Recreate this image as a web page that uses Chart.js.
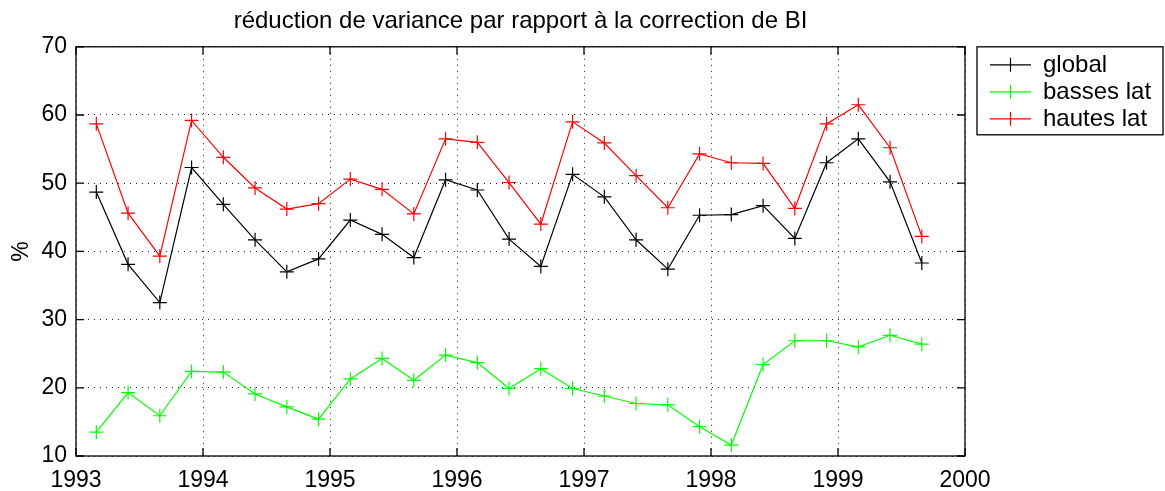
<!DOCTYPE html>
<html>
<head>
<meta charset="utf-8">
<title>réduction de variance</title>
<script src="https://cdn.jsdelivr.net/npm/chart.js@4/dist/chart.umd.min.js"></script>
<style>
  body { margin: 0; background: #fff; }
  canvas { display: block; }
</style>
</head>
<body>
<canvas id="variance-chart" width="1165" height="491"></canvas>
<script>
// seasonal time steps (decimal years)
const years = [
  1993.16, 1993.41, 1993.66, 1993.91,
  1994.16, 1994.41, 1994.66, 1994.91,
  1995.16, 1995.41, 1995.66, 1995.91,
  1996.16, 1996.41, 1996.66, 1996.91,
  1997.16, 1997.41, 1997.66, 1997.91,
  1998.16, 1998.41, 1998.66, 1998.91,
  1999.16, 1999.41, 1999.66
];
const globalPct = [
  48.7, 38.1, 32.5, 52.3, 46.9, 41.7, 37.0, 38.9, 44.6, 42.5,
  39.1, 50.5, 49.0, 41.8, 37.8, 51.3, 48.0, 41.7, 37.4, 45.3,
  45.4, 46.7, 41.9, 53.0, 56.5, 50.2, 38.3
];
const bassesLatPct = [
  13.5, 19.3, 15.9, 22.4, 22.3, 19.1, 17.2, 15.4, 21.3, 24.3,
  21.1, 24.8, 23.7, 19.9, 22.8, 19.9, 18.8, 17.7, 17.5, 14.3,
  11.6, 23.4, 26.9, 26.9, 26.0, 27.7, 26.4
];
const hautesLatPct = [
  58.7, 45.6, 39.3, 59.2, 53.8, 49.3, 46.2, 47.0, 50.6, 49.1,
  45.5, 56.5, 56.0, 50.1, 44.0, 59.0, 55.9, 51.1, 46.4, 54.3,
  53.0, 52.9, 46.3, 58.7, 61.5, 55.2, 42.2
];
const xTicks = [1993, 1994, 1995, 1996, 1997, 1998, 1999, 2000];
const yTicks = [10, 20, 30, 40, 50, 60, 70];

const FONT = "'Liberation Sans', Arial, Helvetica, sans-serif";

function toPoints(values) {
  return values.map((v, i) => ({ x: years[i], y: v }));
}

function makeSeries(label, values, color) {
  return {
    label: label,
    data: toPoints(values),
    borderColor: color,
    backgroundColor: color,
    borderWidth: 1.2,
    pointStyle: "cross",
    pointRadius: 7,
    pointBorderWidth: 1.2,
    pointHoverRadius: 7,
    tension: 0,
    fill: false,
  };
}

// box around the axes plus inward tick marks on all four sides
const axesFrame = {
  id: "axesFrame",
  afterDatasetsDraw(chart) {
    const { ctx, chartArea: a, scales } = chart;
    const len = 8;
    ctx.save();
    ctx.strokeStyle = "#000";
    ctx.lineWidth = 1.3;
    ctx.strokeRect(a.left, a.top, a.right - a.left, a.bottom - a.top);
    ctx.beginPath();
    scales.x.ticks.forEach((t) => {
      const px = scales.x.getPixelForValue(t.value);
      ctx.moveTo(px, a.bottom); ctx.lineTo(px, a.bottom - len);
      ctx.moveTo(px, a.top); ctx.lineTo(px, a.top + len);
    });
    scales.y.ticks.forEach((t) => {
      const py = scales.y.getPixelForValue(t.value);
      ctx.moveTo(a.left, py); ctx.lineTo(a.left + len, py);
      ctx.moveTo(a.right, py); ctx.lineTo(a.right - len, py);
    });
    ctx.stroke();
    ctx.restore();
  },
};

// legend in a framed box to the right of the axes
const boxedLegend = {
  id: "boxedLegend",
  afterDraw(chart) {
    const { ctx, chartArea: a } = chart;
    const left = a.right + 12;
    const top = a.top;
    const w = 186, h = 88;
    ctx.save();
    ctx.fillStyle = "#fff";
    ctx.fillRect(left, top, w, h);
    ctx.strokeStyle = "#000";
    ctx.lineWidth = 1.3;
    ctx.strokeRect(left, top, w, h);
    ctx.font = "24px " + FONT;
    ctx.textBaseline = "middle";
    chart.data.datasets.forEach((ds, i) => {
      const y = top + 18 + i * 27;
      ctx.strokeStyle = ds.borderColor;
      ctx.lineWidth = 1.2;
      ctx.beginPath();
      ctx.moveTo(left + 13, y); ctx.lineTo(left + 54, y);
      ctx.moveTo(left + 33.5, y - 7); ctx.lineTo(left + 33.5, y + 7);
      ctx.stroke();
      ctx.fillStyle = "#000";
      ctx.fillText(ds.label, left + 66, y + 1);
    });
    ctx.restore();
  },
};

document.addEventListener("DOMContentLoaded", function () {
  const ctx = document.querySelector("#variance-chart").getContext("2d");
  new Chart(ctx, {
    type: "line",
    data: {
      datasets: [
        makeSeries("global", globalPct, "#000000"),
        makeSeries("basses lat", bassesLatPct, "#00ff00"),
        makeSeries("hautes lat", hautesLatPct, "#ff0000"),
      ],
    },
    options: {
      responsive: false,
      animation: false,
      devicePixelRatio: 1,
      layout: { padding: { top: 0, right: 200, bottom: 0, left: 0 } },
      plugins: {
        legend: { display: false },
        tooltip: { enabled: false },
        title: {
          display: true,
          fullSize: false,
          text: "réduction de variance par rapport à la correction de BI",
          color: "#000",
          font: { family: FONT, size: 24, weight: "normal" },
          padding: { top: 7, bottom: 11 },
        },
      },
      scales: {
        x: {
          type: "linear",
          min: 1993,
          max: 2000,
          afterBuildTicks: (scale) => {
            scale.ticks = xTicks.map((v) => ({ value: v }));
          },
          afterFit: (scale) => { scale.height = 35; },
          ticks: {
            color: "#000",
            font: { family: FONT, size: 23 },
            padding: 11,
            maxRotation: 0,
            callback: (v) => String(v),
          },
          grid: { color: "#222", lineWidth: 1, drawTicks: false },
          border: { display: false, dash: [1, 5] },
        },
        y: {
          min: 10,
          max: 70,
          afterBuildTicks: (scale) => {
            scale.ticks = yTicks.map((v) => ({ value: v }));
          },
          afterFit: (scale) => { scale.width = 76; },
          ticks: {
            color: "#000",
            font: { family: FONT, size: 23 },
            padding: 9,
            callback: (v) => String(v),
          },
          title: {
            display: true,
            text: "%",
            color: "#000",
            font: { family: FONT, size: 23 },
            padding: { top: 8, bottom: 0 },
          },
          grid: { color: "#222", lineWidth: 1, drawTicks: false },
          border: { display: false, dash: [1, 5] },
        },
      },
    },
    plugins: [axesFrame, boxedLegend],
  });
});
</script>
</body>
</html>
